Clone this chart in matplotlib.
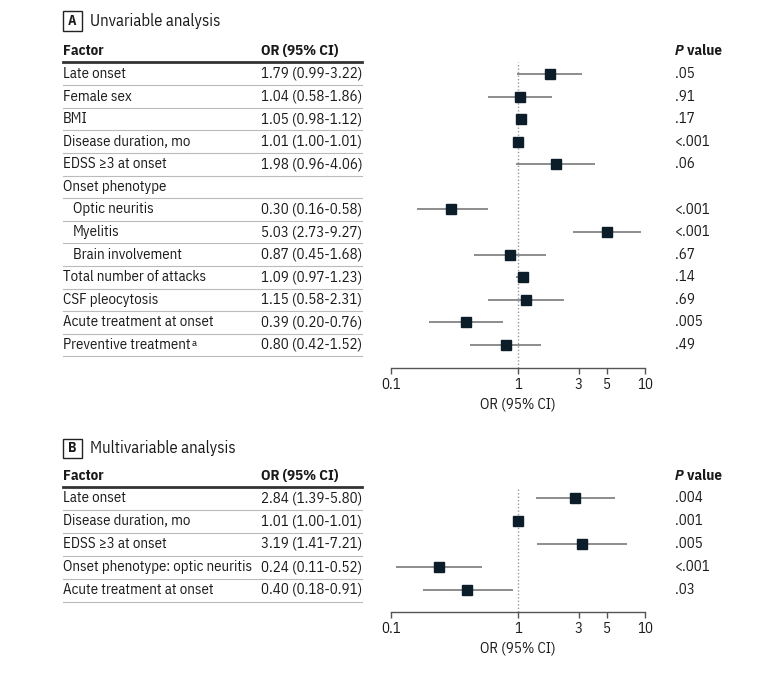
import matplotlib
matplotlib.use("Agg")
import matplotlib.pyplot as plt
from matplotlib.transforms import blended_transform_factory
from matplotlib.patches import Rectangle
import matplotlib.ticker as mticker
import logging
logging.getLogger("matplotlib.font_manager").setLevel(logging.ERROR)

FAMS = ['IBM Plex Sans Condensed', 'Fira Sans Condensed', 'Lato', 'DejaVu Sans']
plt.rcParams['font.family'] = FAMS

# ---------------- data ----------------
a_factors = ["Late onset", "Female sex", "BMI", "Disease duration, mo", "EDSS \u22653 at onset",
             "Onset phenotype", "Optic neuritis", "Myelitis", "Brain involvement",
             "Total number of attacks", "CSF pleocytosis", "Acute treatment at onset",
             "Preventive treatment"]
a_note = ["", "", "", "", "", "", "", "", "", "", "", "", "a"]
a_indent = [0, 0, 0, 0, 0, 0, 1, 1, 1, 0, 0, 0, 0]
a_or = [1.79, 1.04, 1.05, 1.01, 1.98, None, 0.30, 5.03, 0.87, 1.09, 1.15, 0.39, 0.80]
a_lo = [0.99, 0.58, 0.98, 1.00, 0.96, None, 0.16, 2.73, 0.45, 0.97, 0.58, 0.20, 0.42]
a_hi = [3.22, 1.86, 1.12, 1.01, 4.06, None, 0.58, 9.27, 1.68, 1.23, 2.31, 0.76, 1.52]
a_p = [".05", ".91", ".17", "<.001", ".06", "", "<.001", "<.001", ".67", ".14", ".69", ".005", ".49"]

b_factors = ["Late onset", "Disease duration, mo", "EDSS \u22653 at onset",
             "Onset phenotype: optic neuritis", "Acute treatment at onset"]
b_note = ["", "", "", "", ""]
b_or = [2.84, 1.01, 3.19, 0.24, 0.40]
b_lo = [1.39, 1.00, 1.41, 0.11, 0.18]
b_hi = [5.80, 1.01, 7.21, 0.52, 0.91]
b_p = [".004", ".001", ".005", "<.001", ".03"]

ticks = [0.1, 1, 3, 5, 10]
tick_labels = ["0.1", "1", "3", "5", "10"]

# ---------------- layout ----------------
W, H = 780, 686
fig = plt.figure(figsize=(W / 100, H / 100), dpi=100)

TXT = "#1a1a1a"
MK = "#0c1d2a"
FS = 10.7

def fx(px):
    return px / W

def fy(py):
    return 1 - py / H

def panel(letter, title, factors, notes, indent, ors, los, his, ps, top_title, head_y, row0, step, axis_y):
    n = len(factors)
    ax_left, ax_right = 390.7, 645.0
    ax = fig.add_axes([fx(ax_left), fy(axis_y), fx(ax_right - ax_left), (axis_y - head_y) / H])
    ax.set_xscale("log")
    ax.set_xlim(0.1, 10)
    ylo = (axis_y - row0) / step
    yhi = (head_y - row0) / step
    ax.set_ylim(ylo, yhi)
    for s in ["top", "right", "left"]:
        ax.spines[s].set_visible(False)
    ax.spines["bottom"].set_color("#555555")
    ax.spines["bottom"].set_linewidth(1.0)
    ax.set_yticks([])
    ax.xaxis.set_major_locator(mticker.FixedLocator(ticks))
    ax.xaxis.set_major_formatter(mticker.FixedFormatter(tick_labels))
    ax.xaxis.set_minor_locator(mticker.NullLocator())
    ax.tick_params(axis="x", length=4, width=1.0, color="#555555", labelsize=FS, labelcolor=TXT, pad=3)
    ax.set_xlabel("OR (95% CI)", fontsize=FS, color=TXT, labelpad=4)
    ax.patch.set_alpha(0)
    ax.axvline(1, color="#999999", lw=1.0, ls=(0, (1, 1.5)), zorder=1)
    for i in range(n):
        if ors[i] is None:
            continue
        ax.plot([los[i], his[i]], [i, i], color="#6e6e6e", lw=1.1, zorder=2, solid_capstyle="butt")
        ax.plot([ors[i]], [i], marker="s", ms=6.6, color=MK, zorder=3, ls="none")

    tr = blended_transform_factory(fig.transFigure, ax.transData)
    # title with box
    fig.add_artist(Rectangle((fx(63), fy(top_title + 9.5)), fx(19), 19 / H, transform=fig.transFigure,
                             fill=False, edgecolor="#222222", lw=1.0))
    fig.text(fx(72.5), fy(top_title), letter, fontsize=FS - 0.7, fontweight="bold", ha="center", va="center",
             color=TXT)
    fig.text(fx(90), fy(top_title), title, fontsize=FS + 1.3, ha="left", va="center", color=TXT)
    # headers
    hy = head_y - 11
    fig.text(fx(63), fy(hy), "Factor", fontsize=FS, fontweight="bold", ha="left", va="center", color=TXT)
    fig.text(fx(261), fy(hy), "OR (95% CI)", fontsize=FS, fontweight="bold", ha="left", va="center", color=TXT)
    pt = fig.text(fx(675), fy(hy), "P", fontsize=FS, fontweight="bold", fontstyle="italic",
                  ha="left", va="center", color=TXT)
    fig.add_artist(matplotlib.text.Annotation(" value", xy=(1, 0.5), xycoords=pt, xytext=(0.3, 0),
                                              textcoords="offset points", fontsize=FS, fontweight="bold",
                                              ha="left", va="center", color=TXT))
    fig.add_artist(plt.Line2D([fx(63), fx(362)], [fy(head_y), fy(head_y)], transform=fig.transFigure,
                              color="#333333", lw=2.0))
    for i in range(n):
        x0 = 63 + 10 * indent[i]
        t = fig.text(fx(x0), i, factors[i], transform=tr, fontsize=FS, ha="left", va="center", color=TXT)
        if notes[i]:
            fig.add_artist(matplotlib.text.Annotation(notes[i], xy=(1, 0.62), xycoords=t, xytext=(0.5, 0),
                                                      textcoords="offset points", fontsize=FS - 3.2,
                                                      ha="left", va="center", color=TXT))
        if ors[i] is not None:
            s = f"{ors[i]:.2f} ({los[i]:.2f}-{his[i]:.2f})"
            fig.text(fx(261), i, s, transform=tr, fontsize=FS, ha="left", va="center", color=TXT)
        fig.text(fx(675), i, ps[i], transform=tr, fontsize=FS, ha="left", va="center", color=TXT)
        fig.add_artist(plt.Line2D([fx(63), fx(362)], [i + 0.5, i + 0.5], transform=tr,
                                  color="#bbbbbb", lw=0.8))
    return ax

panel("A", "Unvariable analysis", a_factors, a_note, a_indent, a_or, a_lo, a_hi, a_p,
      top_title=21, head_y=62, row0=74, step=22.58, axis_y=368)
panel("B", "Multivariable analysis", b_factors, b_note, [0] * len(b_factors), b_or, b_lo, b_hi, b_p,
      top_title=448, head_y=487, row0=498, step=23.0, axis_y=612)

fig.savefig("out.png", dpi=100)
